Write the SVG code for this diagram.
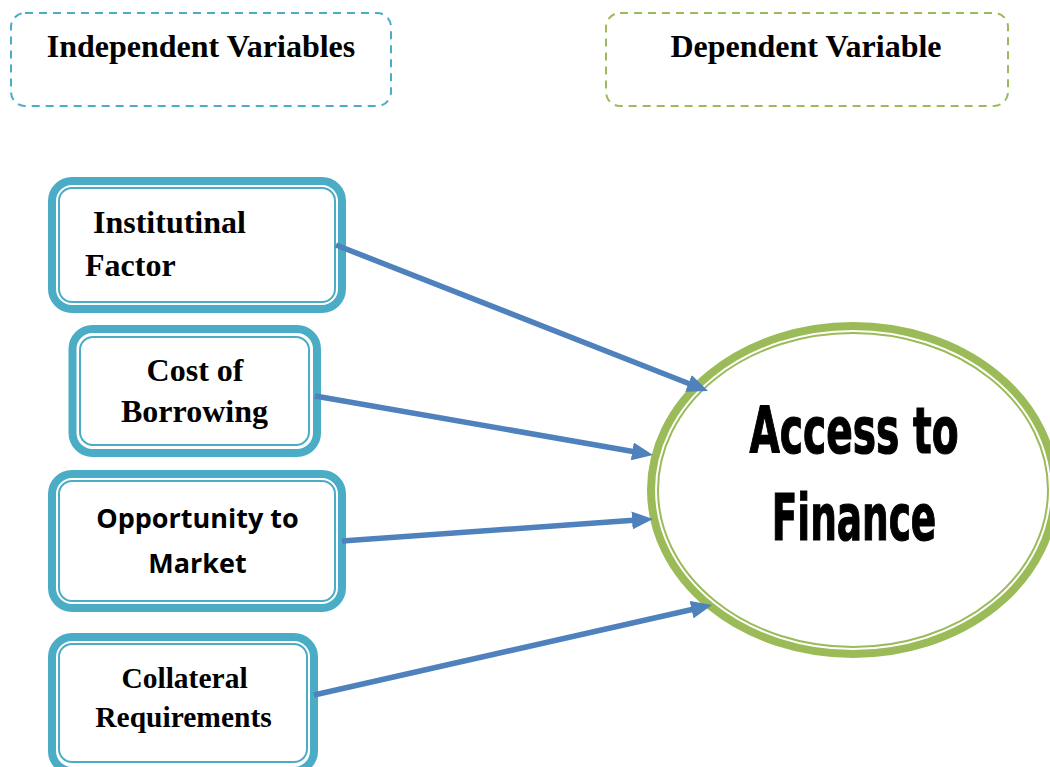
<svg xmlns="http://www.w3.org/2000/svg" width="1050" height="767" viewBox="0 0 1050 767">
  <style>
    .legend-teal { fill: none; stroke: #4BACC6; stroke-width: 2; stroke-dasharray: 8 6; }
    .legend-green { fill: none; stroke: #9BBB59; stroke-width: 2; stroke-dasharray: 8 6; }
    .box-outer { fill: #FFFFFF; stroke: #4BACC6; stroke-width: 8; }
    .box-inner { fill: none; stroke: #4BACC6; stroke-width: 2; }
    .serif { font-family: "Liberation Serif", "Times New Roman", serif; font-weight: bold; fill: #000000; }
    .sans { font-family: "Open Sans", "Liberation Sans", sans-serif; font-weight: bold; fill: #000000; }
    .narrow { font-family: "DejaVu Sans Condensed", "Liberation Sans", sans-serif; font-weight: bold; fill: #000000; stroke: #000000; stroke-width: 1.2; }
    .link { fill: none; stroke: #4F81BD; stroke-width: 5.5; }
  </style>
  <defs>
    <marker id="arrow" markerUnits="userSpaceOnUse" markerWidth="21" markerHeight="18" refX="5" refY="9" orient="auto">
      <path d="M0,0 L21,9 L0,18 z" fill="#4F81BD"/>
    </marker>
  </defs>

  <rect width="1050" height="767" fill="#FFFFFF"/>

  <!-- legend headers -->
  <g id="legend-independent">
    <rect class="legend-teal" x="11" y="13" width="380" height="93" rx="14"/>
    <text class="serif" x="201" y="57" font-size="32" text-anchor="middle">Independent Variables</text>
  </g>
  <g id="legend-dependent">
    <rect class="legend-green" x="606" y="13" width="402" height="93" rx="14"/>
    <text class="serif" x="806" y="57" font-size="32" text-anchor="middle">Dependent Variable</text>
  </g>

  <!-- independent variables -->
  <g id="node-institutional">
    <rect class="box-outer" x="52" y="181" width="290" height="128" rx="20"/>
    <rect class="box-inner" x="59" y="188" width="276" height="114" rx="13"/>
    <text class="serif" x="93" y="233" font-size="32">Institutinal</text>
    <text class="serif" x="85" y="276" font-size="32">Factor</text>
  </g>

  <g id="node-cost">
    <rect class="box-outer" x="72.5" y="329" width="244.5" height="124" rx="20"/>
    <rect class="box-inner" x="80" y="337" width="229" height="108" rx="13"/>
    <text class="serif" x="195" y="381" font-size="32" text-anchor="middle">Cost of</text>
    <text class="serif" x="194.5" y="422" font-size="32" text-anchor="middle">Borrowing</text>
  </g>

  <g id="node-opportunity">
    <rect class="box-outer" x="52" y="474" width="290" height="134" rx="20"/>
    <rect class="box-inner" x="59" y="481" width="276" height="120" rx="13"/>
    <text class="sans" x="197.5" y="528" font-size="27" text-anchor="middle">Opportunity to</text>
    <text class="sans" x="197.5" y="573" font-size="27" text-anchor="middle">Market</text>
  </g>

  <g id="node-collateral">
    <rect class="box-outer" x="52" y="637" width="262" height="134" rx="20"/>
    <rect class="box-inner" x="59" y="644" width="248" height="118" rx="13"/>
    <text class="serif" x="184.5" y="688" font-size="29.5" text-anchor="middle">Collateral</text>
    <text class="serif" x="183.5" y="727" font-size="29.5" text-anchor="middle">Requirements</text>
  </g>

  <!-- dependent variable -->
  <g id="node-access">
    <ellipse cx="853" cy="490" rx="202" ry="164" fill="#FFFFFF" stroke="#9BBB59" stroke-width="8"/>
    <ellipse cx="853" cy="490" rx="195" ry="157" fill="none" stroke="#9BBB59" stroke-width="2"/>
    <text class="narrow" transform="translate(854,453) scale(0.68,1)" x="0" y="0" font-size="64" text-anchor="middle">Access to</text>
    <text class="narrow" transform="translate(854,540) scale(0.65,1)" x="0" y="0" font-size="64" text-anchor="middle">Finance</text>
  </g>

  <!-- connectors, drawn over the box borders -->
  <g id="connectors">
    <line class="link" x1="336" y1="245" x2="693.1" y2="385.2" marker-end="url(#arrow)"/>
    <line class="link" x1="315" y1="396" x2="637.2" y2="452.2" marker-end="url(#arrow)"/>
    <line class="link" x1="342" y1="541" x2="637.0" y2="520.1" marker-end="url(#arrow)"/>
    <line class="link" x1="314" y1="695" x2="696.4" y2="608.5" marker-end="url(#arrow)"/>
  </g>
</svg>
